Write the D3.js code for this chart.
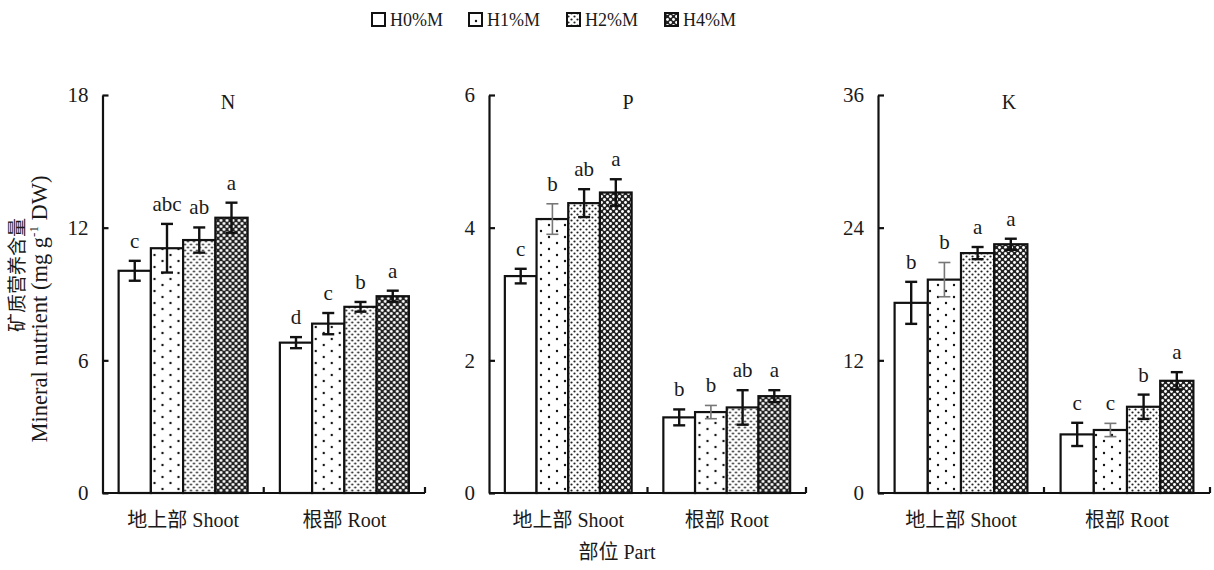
<!DOCTYPE html>
<meta charset="utf-8">
<style type="text/css">
  body { margin: 0; background: #fff; }
  text {
    font-family: "Liberation Serif", "Noto Sans CJK SC", serif;
    fill: #1a1a1a;
  }
  .domain, .tick line { stroke: #111; stroke-width: 2.2; }
</style>

<body>
</body>
<script src="https://d3js.org/d3.v7.min.js"></script>
<script>
  // data, rows = part (shoot, root), cols = treatment
  var series = ["H0%M", "H1%M", "H2%M", "H4%M"];
  var parts = ["地上部 Shoot", "根部 Root"];
  var nutrients = ["N", "P", "K"];

  var nMean = [[10.05, 11.07, 11.44, 12.45], [6.8, 7.66, 8.42, 8.9]];
  var nErr = [[0.45, 1.1, 0.57, 0.68], [0.25, 0.48, 0.22, 0.25]];
  var nSig = [["c", "abc", "ab", "a"], ["d", "c", "b", "a"]];

  var pMean = [[3.27, 4.13, 4.37, 4.53], [1.14, 1.22, 1.29, 1.46]];
  var pErr = [[0.11, 0.23, 0.21, 0.2], [0.12, 0.1, 0.26, 0.09]];
  var pSig = [["c", "b", "ab", "a"], ["b", "b", "ab", "a"]];

  var kMean = [[17.2, 19.3, 21.7, 22.5], [5.3, 5.7, 7.8, 10.15]];
  var kErr = [[1.9, 1.55, 0.55, 0.5], [1.05, 0.6, 1.1, 0.78]];
  var kSig = [["b", "b", "a", "a"], ["c", "c", "b", "a"]];

  var yTicks = [[0, 6, 12, 18], [0, 2, 4, 6], [0, 12, 24, 36]];

  var means = [nMean, pMean, kMean];
  var errs = [nErr, pErr, kErr];
  var sigs = [nSig, pSig, kSig];

  // panel placement (pixels)
  var panelX = [[102.5, 425], [489, 806], [878, 1210]];
  var titleX = [228, 628, 1009];
  var yTop = 95, yBottom = 493;

  var svg = d3.select("body").append("svg")
    .attr("width", 1214)
    .attr("height", 570);

  // fill patterns for the four treatments
  var defs = svg.append("defs");
  defs.append("pattern").attr("id", "pat0")
    .attr("patternUnits", "userSpaceOnUse").attr("width", 4).attr("height", 4)
    .append("rect").attr("width", 4).attr("height", 4).attr("fill", "#fff");

  var p1 = defs.append("pattern").attr("id", "pat1")
    .attr("patternUnits", "userSpaceOnUse").attr("width", 16).attr("height", 12);
  p1.append("rect").attr("width", 16).attr("height", 12).attr("fill", "#fff");
  p1.append("circle").attr("cx", 4).attr("cy", 3).attr("r", 1.2).attr("fill", "#111");
  p1.append("circle").attr("cx", 12).attr("cy", 9).attr("r", 1.2).attr("fill", "#111");

  var p2 = defs.append("pattern").attr("id", "pat2")
    .attr("patternUnits", "userSpaceOnUse").attr("width", 6).attr("height", 6);
  p2.append("rect").attr("width", 6).attr("height", 6).attr("fill", "#fff");
  p2.append("circle").attr("cx", 1.5).attr("cy", 1.5).attr("r", 1.1).attr("fill", "#222");
  p2.append("circle").attr("cx", 4.5).attr("cy", 4.5).attr("r", 1.1).attr("fill", "#222");

  var p3 = defs.append("pattern").attr("id", "pat3")
    .attr("patternUnits", "userSpaceOnUse").attr("width", 6).attr("height", 6);
  p3.append("rect").attr("width", 6).attr("height", 6).attr("fill", "#222");
  p3.append("circle").attr("cx", 1.5).attr("cy", 1.5).attr("r", 1.45).attr("fill", "#fff");
  p3.append("circle").attr("cx", 4.5).attr("cy", 4.5).attr("r", 1.45).attr("fill", "#fff");

  nutrients.forEach(function(name, k) {
    var x0 = panelX[k][0], x1 = panelX[k][1];
    var ticks = yTicks[k];

    var x = d3.scaleBand().domain(parts).range([x0, x1]).padding(0);
    var xs = d3.scaleBand().domain(series)
      .range([x.bandwidth() * 0.1, x.bandwidth() * 0.9]).padding(0);
    var y = d3.scaleLinear().domain([0, ticks[ticks.length - 1]]).range([yBottom, yTop]);

    var g = svg.append("g");

    // bars
    parts.forEach(function(part, pi) {
      var grp = g.append("g").attr("transform", "translate(" + x(part) + ",0)");

      grp.selectAll("rect.bar")
        .data(series)
        .enter().append("rect")
        .attr("class", "bar")
        .attr("x", function(s) { return xs(s); })
        .attr("y", function(s, i) { return y(means[k][pi][i]); })
        .attr("width", xs.bandwidth())
        .attr("height", function(s, i) { return yBottom - y(means[k][pi][i]); })
        .attr("fill", function(s, i) { return "url(#pat" + i + ")"; })
        .attr("stroke", "#111")
        .attr("stroke-width", 2.2);

      // error bars and letters
      series.forEach(function(s, i) {
        var cx = xs(s) + xs.bandwidth() / 2;
        var m = means[k][pi][i], e = errs[k][pi][i];
        var grey = (i === 1 && k > 0);
        var col = grey ? "#777" : "#111";
        var sw = grey ? 1.6 : 2.4;
        var eb = grp.append("g").attr("stroke", col).attr("stroke-width", sw);
        eb.append("line")
          .attr("x1", cx).attr("x2", cx)
          .attr("y1", y(m + e)).attr("y2", y(m - e));
        eb.append("line")
          .attr("x1", cx - 6).attr("x2", cx + 6)
          .attr("y1", y(m + e)).attr("y2", y(m + e));
        eb.append("line")
          .attr("x1", cx - 6).attr("x2", cx + 6)
          .attr("y1", y(m - e)).attr("y2", y(m - e));

        grp.append("text")
          .attr("x", cx)
          .attr("y", y(m + e) - 13)
          .attr("text-anchor", "middle")
          .style("font-size", "21px")
          .text(sigs[k][pi][i]);
      });
    });

    // y axis with inward ticks
    g.append("g")
      .attr("transform", "translate(" + x0 + ",0)")
      .call(d3.axisLeft(y).tickValues(ticks).tickFormat(d3.format("d"))
        .tickSizeInner(-6).tickSizeOuter(0).tickPadding(14))
      .call(function(a) {
        a.selectAll("text").style("font-size", "21px")
          .attr("fill", "#1a1a1a").style("font-family", "'Liberation Serif', serif");
      });

    // x axis: baseline and upward ticks at group boundaries
    g.append("line")
      .attr("x1", x0).attr("x2", x1)
      .attr("y1", yBottom).attr("y2", yBottom)
      .attr("stroke", "#111").attr("stroke-width", 2.2);
    g.selectAll("line.xt")
      .data(parts)
      .enter().append("line")
      .attr("class", "xt")
      .attr("x1", function(p) { return x(p) + x.step(); })
      .attr("x2", function(p) { return x(p) + x.step(); })
      .attr("y1", yBottom).attr("y2", yBottom - 6)
      .attr("stroke", "#111").attr("stroke-width", 2.2);

    // category labels
    g.selectAll("text.cat")
      .data(parts)
      .enter().append("text")
      .attr("class", "cat")
      .attr("x", function(p) { return x(p) + x.bandwidth() / 2; })
      .attr("y", 527)
      .attr("text-anchor", "middle")
      .style("font-size", "20px")
      .text(function(p) { return p; });

    // panel title
    g.append("text")
      .attr("x", titleX[k])
      .attr("y", 109)
      .attr("text-anchor", "middle")
      .style("font-size", "20px")
      .text(name);
  });

  // shared x title
  svg.append("text")
    .attr("x", 617)
    .attr("y", 559)
    .attr("text-anchor", "middle")
    .style("font-size", "20px")
    .text("部位 Part");

  // shared y title (two lines)
  var yt = svg.append("g").attr("transform", "translate(0,305) rotate(-90)");
  yt.append("text")
    .attr("x", 30).attr("y", 24)
    .attr("text-anchor", "middle")
    .style("font-size", "19px")
    .text("矿质营养含量");
  var eng = yt.append("text")
    .attr("x", -4).attr("y", 47)
    .attr("text-anchor", "middle")
    .style("font-size", "22.5px");
  eng.append("tspan").text("Mineral nutrient (mg g");
  eng.append("tspan").attr("dy", -9).style("font-size", "13px").text("-1");
  eng.append("tspan").attr("dy", 9).text(" DW)");

  // legend
  var legX = [372, 469, 567, 665];
  var leg = svg.append("g");
  series.forEach(function(s, i) {
    leg.append("rect")
      .attr("x", legX[i]).attr("y", 13)
      .attr("width", 13).attr("height", 13)
      .attr("fill", "url(#pat" + i + ")")
      .attr("stroke", "#111").attr("stroke-width", 2);
    leg.append("text")
      .attr("x", legX[i] + 18).attr("y", 26)
      .style("font-size", "18px")
      .text(s);
  });
</script>
